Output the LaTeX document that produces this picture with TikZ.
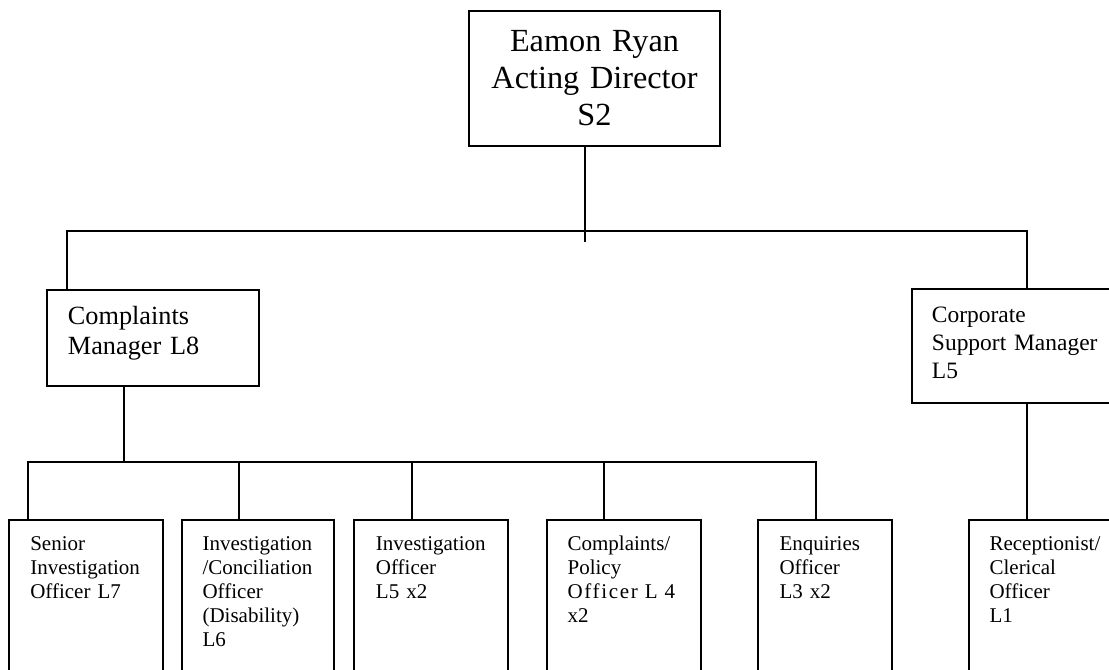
\documentclass[tikz,border=0pt]{standalone}
\usepackage{fontspec}
\setmainfont{Liberation Serif}
\usetikzlibrary{fit}
\begin{document}
\begin{tikzpicture}[x=0.75pt,y=-0.75pt,
  box/.style={draw=black,line width=1.4pt,inner sep=0pt,rectangle},
  conn/.style={draw=black,line width=1.4pt},
  ttext/.style={inner sep=0pt,anchor=base,text width=8cm,align=center,font=\fontsize{24.2}{27.5}\selectfont},
  mtext/.style={inner sep=0pt,anchor=base west,text width=6cm,align=left,font=\fontsize{19.7}{23}\selectfont},
  ctext/.style={inner sep=0pt,anchor=base west,text width=6cm,align=left,font=\fontsize{17.6}{21.25}\selectfont},
  btext/.style={inner sep=0pt,anchor=base west,text width=4cm,align=left,font=\fontsize{15.75}{18}\selectfont}]
\useasboundingbox (0,0) rectangle (1109,669);
\clip (0,0) rectangle (1109,669);
\fill[white] (0,0) rectangle (1109,669);
% boxes
\node[box,fit={(469.3,11) (720,145.7)}] (dir) {};
\node[box,fit={(47.3,290) (258.7,385.7)}] (cm) {};
\node[box,fit={(911.7,289.3) (1120,402.7)}] (corp) {};
\node[box,fit={(9,520.3) (162.7,700)}] (o1) {};
\node[box,fit={(181.7,520.3) (334.3,700)}] (o2) {};
\node[box,fit={(354.3,520.3) (508.3,700)}] (o3) {};
\node[box,fit={(546.7,520.3) (700.7,700)}] (o4) {};
\node[box,fit={(757.7,520.3) (892.3,700)}] (o5) {};
\node[box,fit={(969,520.3) (1120,700)}] (o6) {};
% texts
\node[ttext] (dirt) at (594.5,51.7) {Eamon Ryan\\Acting Director\\S2};
\node[mtext] (cmt) at (67.7,324.3) {Complaints\\Manager L8};
\node[ctext] (corpt) at (931.7,322.3) {Corporate\\Support Manager\\L5};
\node[btext] (o1t) at (30,550) {Senior\\Investigation\\Officer L7};
\node[btext] (o2t) at (202.3,550) {Investigation\\/Conciliation\\Officer\\(Disability)\\L6};
\node[btext] (o3t) at (375.7,550) {Investigation\\Officer\\L5 x2};
\node[btext] (o4t) at (567.3,550) {Complaints/\\Policy\\{\addfontfeature{LetterSpace=8}Officer L 4}\\x2};
\node[btext] (o5t) at (779.3,550) {Enquiries\\Officer\\L3 x2};
\node[btext] (o6t) at (989.3,550) {Receptionist/\\Clerical\\Officer\\L1};
% junction coordinates
\coordinate (tj) at (585,242);
\coordinate (bus1) at (66.7,231);
\coordinate (bus2) at (1026.7,231);
\coordinate (cmj) at (124,462);
\coordinate (v1) at (28,462);
\coordinate (v2) at (239.3,462);
\coordinate (v3) at (412.3,462);
\coordinate (v4) at (604.3,462);
\coordinate (v5) at (815.7,462);
% connectors
\draw[conn] (dir.south -| tj) -- (tj);
\draw[conn] (cm.north -| bus1) -- (bus1) -- (bus2) -- (corp.north -| bus2);
\draw[conn] (cm.south -| cmj) -- (cmj);
\draw[conn] (o1.north -| v1) -- (v1) -- (v5) -- (o5.north -| v5);
\draw[conn] (v2) -- (o2.north -| v2);
\draw[conn] (v3) -- (o3.north -| v3);
\draw[conn] (v4) -- (o4.north -| v4);
\draw[conn] (corp.south -| bus2) -- (o6.north -| bus2);
\end{tikzpicture}
\end{document}
